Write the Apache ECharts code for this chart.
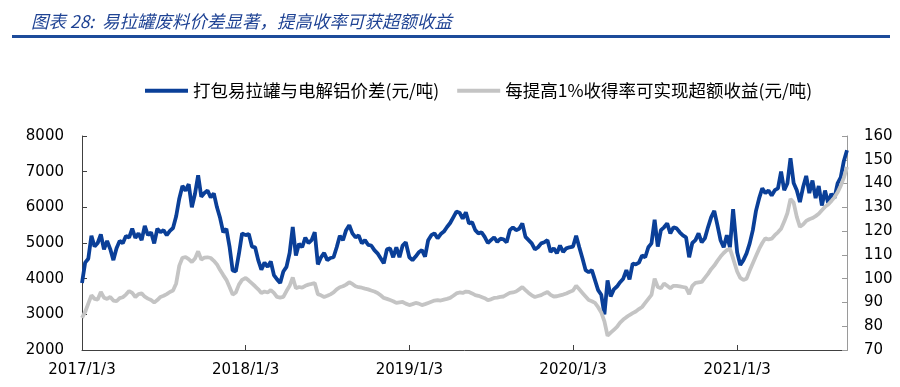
<!DOCTYPE html>
<html><head><meta charset="utf-8">
<script src="https://cdn.jsdelivr.net/npm/echarts@6/dist/echarts.min.js"></script>
<style>html,body{margin:0;padding:0;background:#fff}#c{width:900px;height:387px}</style>
</head><body><div id="c"></div>
<script>
// Weekly observations, one array per year (first point of each year on Y/1/3, then every 7 days)
const years = [2017, 2018, 2019, 2020, 2021];
const blue2017 = [3880,4450,4560,5200,4900,5000,5240,4820,5060,4830,4520,4850,5060,4990,5200,5150,5400,5140,5270,5080,5480,5220,5300,4990,5400,5300,5360,5220,5340,5420,5750,6250,6600,6470,6650,6000,6380,6900,6300,6400,6470,6280,6390,6000,5700,5300,5400,4900,4230,4200,4700,5270];
const blue2018 = [5220,5250,4900,4880,4520,4250,4450,4330,4480,4100,3980,3880,4200,4330,4720,5450,4650,4980,4880,5150,5000,5080,5300,4400,4600,4720,4520,4580,4600,4880,5200,5080,5360,5500,5270,5160,5210,4990,5080,4950,4930,4800,4710,4570,4430,4820,4850,4600,4880,4600,4930,5020];
const blue2019 = [4600,4520,4620,4740,4800,4620,5080,5220,5270,5130,5250,5320,5450,5560,5720,5880,5850,5680,5860,5550,5580,5360,5270,5300,5170,5000,5080,5160,5030,5120,5100,5020,5360,5440,5360,5400,5550,5170,5080,4990,4820,4880,4990,5020,5080,4750,4850,4710,4930,4750,4850,4880];
const blue2020 = [4900,5200,4880,4570,4240,4180,4240,3960,3680,3550,3000,3950,3500,3700,3780,3900,4000,4240,3980,4420,4400,4450,4650,4600,4880,4990,5650,4900,5360,5440,5550,5270,5440,5410,5300,5216,5160,4600,5000,5080,5270,5020,5130,5440,5720,5900,5500,5080,4880,5216,4880,5950];
const blue2021 = [4740,4380,4520,4710,4990,5360,5900,6250,6530,6400,6470,6330,6480,6530,7000,6480,6670,7380,6680,6480,6150,6560,6880,6400,6750,6260,6600,6050,6470,6120,6380,6260,6670,6840,7300,7600];

const gray2017 = [83.5,86,89.5,93,91.5,91.2,94.4,92,91.5,92.3,90.8,90.5,91.8,92.2,93.3,94.8,94,92.3,93.5,93.8,92.4,91.6,91,90,91,92.3,92.8,93.5,94.4,95,98,105.5,108.8,109.1,108.2,107,108.5,111.5,108,108.8,109,108.7,107.5,106,103.6,101.5,99.5,96.5,93.3,94.2,97.5,99.5];
const gray2018 = [100.3,99.2,98,96.8,95.5,94,94.6,94.2,95.2,94,92.3,92,92.3,94.8,97,100.5,96,96.5,96.2,97,97.5,97.8,98.2,93.5,93,92.3,92.8,93.4,94.2,95.5,96.4,96.8,97.5,98.5,97.8,96.8,96.4,96.2,95.8,95.5,95,94.6,94,93,91.9,91.5,91,90.5,89.8,90,90.2,89.5];
const gray2019 = [88.9,89.3,89.8,89.5,88.9,89.3,89.8,90.3,90.8,91,90.8,91.2,91.5,91.9,92.8,93.8,94.2,94,94.6,94.4,93.8,93.1,92.8,92.3,91.8,91,91.3,91.9,92,92.3,92.5,93.3,94,94.2,94.6,95.5,96.5,95.2,94,93,92.3,92.7,93.1,93.8,94.4,93.2,92.5,92.6,93,93.3,93.8,94.4];
const gray2020 = [95,97,95.5,94,92.5,91,90.5,89.8,88,85.8,82,76,77.3,78.5,79.7,81.5,82.8,83.8,84.7,85.5,86.2,87.2,88.1,89.8,91.5,93.2,100,96.5,96,98,97,96,97,97,96.8,96.5,96.2,93.5,97,98.2,98.4,98.6,100.3,102,104,105.5,107.5,109.3,110.8,112,112.5,108.5];
const gray2021 = [103,100.3,99.5,100,103.4,106.5,109.5,112.5,115,117,116.5,116.8,118.3,119.5,121,124,127.5,133.5,132,126,121.8,122.8,124.3,125,125.5,126.3,127.3,128.8,130.2,131.2,132.6,134.2,136.3,139,142.5,147];

const tickLabels = ['2017/1/3','2018/1/3','2019/1/3','2020/1/3','2021/1/3'];
const leftTicks = [2000,3000,4000,5000,6000,7000,8000];
const rightTicks = [70,80,90,100,110,120,130,140,150,160];
const seriesNames = ['打包易拉罐与电解铝价差(元/吨)','每提高1%收得率可实现超额收益(元/吨)'];
const titleText = '图表 28:  易拉罐废料价差显著，提高收率可获超额收益';

const blueByYear = [blue2017, blue2018, blue2019, blue2020, blue2021];
const grayByYear = [gray2017, gray2018, gray2019, gray2020, gray2021];
const parse = s => { const p = s.split('/').map(Number); return new Date(p[0], p[1]-1, p[2]).getTime(); };
const tickValues = tickLabels.map(parse);
const blueData = [], grayData = [];
years.forEach((y, yi) => {
  blueByYear[yi].forEach((v, k) => {
    const t = new Date(y, 0, 3 + 7*k).getTime();
    blueData.push([t, v]);
    grayData.push([t, grayByYear[yi][k]]);
  });
});
const xMin = blueData[0][0], xMax = blueData[blueData.length-1][0];

const font = 'DejaVu Sans';
const cjk = '"Noto Sans CJK SC"';
const chart = echarts.init(document.getElementById('c'), null, {renderer:'canvas'});
chart.setOption({
  animation: false,
  backgroundColor: '#fff',
  title: {
    text: titleText, left: 26, top: 8,
    textStyle: {fontSize: 17.5, fontStyle: 'italic', fontWeight: 'normal', color: '#1f4394', fontFamily: cjk}
  },
  graphic: [{type:'rect', left: 12, top: 35, shape:{width: 878, height: 3}, style:{fill:'#1d4b9a'}}],
  legend: {
    left: 140, top: 77, itemWidth: 43, itemHeight: 4, itemGap: 18, icon: 'rect',
    data: seriesNames,
    textStyle: {fontSize: 17.5, fontFamily: cjk, color: '#000'}
  },
  grid: {left: 82, right: 53, top: 136, bottom: 37, containLabel: false},
  xAxis: {
    type: 'value', min: xMin, max: xMax, scale: true,
    axisLine: {show: true, onZero: false, lineStyle: {color: '#404040', width: 1}},
    axisTick: {show: true, inside: true, length: 5, customValues: tickValues, lineStyle: {color: '#404040'}},
    axisLabel: {
      customValues: tickValues, fontSize: 15, fontFamily: font, color: '#000', margin: 13,
      showMinLabel: true, showMaxLabel: true,
      formatter: v => { let best = 0, bd = Infinity; tickValues.forEach((t,i)=>{const d=Math.abs(t-v); if(d<bd){bd=d;best=i;}}); return tickLabels[best]; }
    },
    splitLine: {show: false}
  },
  yAxis: [
    {
      type: 'value', position: 'left', min: leftTicks[0], max: leftTicks[leftTicks.length-1], interval: 1000,
      axisLine: {show: true, lineStyle: {color: '#404040'}},
      axisTick: {show: true, inside: true, length: 5, lineStyle: {color: '#404040'}},
      axisLabel: {fontSize: 15, fontFamily: font, color: '#000', margin: 18, formatter: v => String(v)},
      splitLine: {show: false}
    },
    {
      type: 'value', position: 'right', min: rightTicks[0], max: rightTicks[rightTicks.length-1], interval: 10,
      axisLine: {show: true, lineStyle: {color: '#9a9a9a'}},
      axisTick: {show: true, inside: true, length: 5, lineStyle: {color: '#9a9a9a'}},
      axisLabel: {fontSize: 15, fontFamily: font, color: '#000', margin: 17, formatter: v => String(v)},
      splitLine: {show: false}
    }
  ],
  series: [
    {name: seriesNames[0], type: 'line', yAxisIndex: 0, data: blueData, symbol: 'none', showSymbol: false,
     lineStyle: {width: 3.8, color: '#0a3f98'}, itemStyle: {color: '#0a3f98'}, z: 2},
    {name: seriesNames[1], type: 'line', yAxisIndex: 1, data: grayData, symbol: 'none', showSymbol: false,
     lineStyle: {width: 3.8, color: '#c4c4c4'}, itemStyle: {color: '#c4c4c4'}, z: 3}
  ]
});
</script></body></html>
